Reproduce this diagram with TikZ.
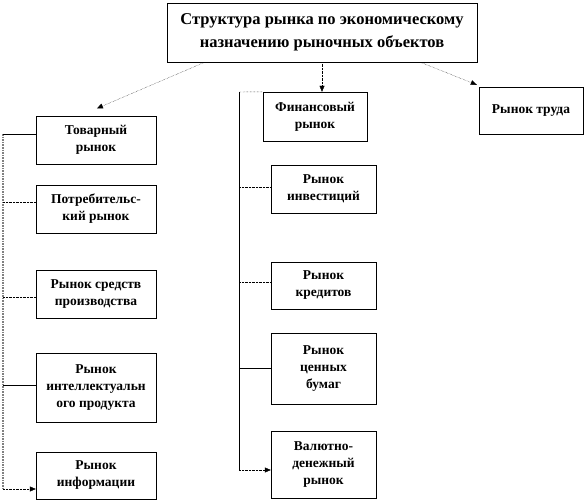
\documentclass[tikz,border=0pt]{standalone}
\usepackage{fontspec}
\setmainfont{Liberation Serif}
\usetikzlibrary{positioning,arrows.meta}

\begin{document}
\begin{tikzpicture}[x=1pt, y=-1pt,
  every node/.style={draw=black, thin, fill=white, align=center, inner sep=2pt,
    font=\bfseries\fontsize{13.5}{17}\selectfont},
  box/.style={minimum width=120pt, minimum height=48pt},
  finbox/.style={minimum width=105pt, minimum height=48pt},
  link/.style={thin},
  dotlink/.style={thin, densely dotted},
  arrow/.style={-{Triangle[length=6pt,width=5pt]}, densely dotted}]
  \useasboundingbox (0,0) rectangle (586,502);
  \node (title) [minimum width=310pt, minimum height=59pt, font=\bfseries\fontsize{16.5}{23}\selectfont]
    at (322,32.5) {Структура рынка по экономическому\\назначению рыночных объектов};
  % goods market
  \node (tovar) [box] at (96,140) {Товарный\\рынок};
  \node (potreb) [box] at (96,209) {Потребительс-\\кий рынок};
  \node (sredstv) [box] at (96,294) {Рынок средств\\производства};
  \node (intel) [box, minimum height=69pt] at (96,387.5) {Рынок\\интеллектуальн\\ого продукта};
  \node (inform) [box, minimum height=47pt] at (96,475.5) {Рынок\\информации};
  % financial market
  \node (finans) [finbox, minimum width=104pt, minimum height=49pt] at (315,116.5) {Финансовый\\рынок};
  \node (invest) [finbox] at (323.5,189) {Рынок\\инвестиций};
  \node (kredit) [finbox, minimum height=47pt] at (323.5,285.5) {Рынок\\кредитов};
  \node (cennye) [finbox, minimum height=71pt] at (323.5,368.5) {Рынок\\ценных\\бумаг};
  \node (valut) [finbox, minimum height=67pt] at (323.5,464.5) {Валютно-\\денежный\\рынок};
  % labour market
  \node (trud) [minimum width=104pt, minimum height=47pt] at (531,110.5) {Рынок труда};
  % arrows from title
  \draw[arrow, shorten >=1pt] ([xshift=38pt]title.south west) -- ([yshift=7pt]tovar.north);
  \draw[arrow] (title.south) -- (title.south |- finans.north);
  \draw[arrow] ([xshift=-57pt]title.south east) -- ([xshift=-2pt,yshift=2pt]trud.north west);
  % left bus
  \coordinate (gtop) at (3,134);
  \coordinate (gend) at (3,489);
  \draw[gray, line width=1.6pt, densely dotted] (gtop) -- (gend);
  \draw[link] (gtop) -- (gtop -| tovar.west);
  \draw[dotlink] (3,202) -- (potreb.west |- 0,202);
  \draw[dotlink] (3,297) -- (sredstv.west |- 0,297);
  \draw[link] (3,385) -- (intel.west |- 0,385);
  \draw[arrow] (gend) -- (gend -| inform.west);
  % financial bus
  \coordinate (ftop) at (239,92);
  \coordinate (fend) at (239,470);
  \draw[link] (ftop) -- (fend);
  \draw[dotlink] (ftop) -- (finans.north west);
  \draw[dotlink] (239,187) -- (invest.west |- 0,187);
  \draw[dotlink] (239,282) -- (kredit.west |- 0,282);
  \draw[link] (239,368) -- (cennye.west |- 0,368);
  \draw[arrow] (fend) -- (fend -| valut.west);
\end{tikzpicture}
\end{document}
